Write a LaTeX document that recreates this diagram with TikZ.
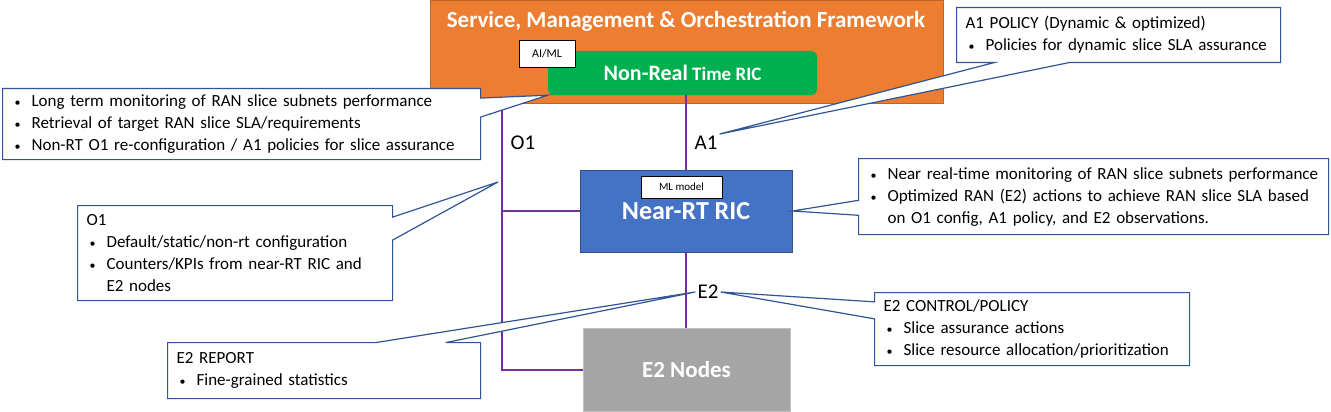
\documentclass[tikz,border=0pt]{standalone}
\usepackage{fontspec}
\setmainfont{Carlito}
\usepackage{xcolor}
\usetikzlibrary{shapes,shapes.callouts,positioning,calc}

\definecolor{smoorange}{HTML}{ED7D31}
\definecolor{nrtgreen}{HTML}{00B050}
\definecolor{ricblue}{HTML}{4472C4}
\definecolor{e2gray}{HTML}{A5A5A5}
\definecolor{ifpurple}{HTML}{7030A0}
\definecolor{noteblue}{HTML}{2F5597}

\newcommand{\bitem}{\hspace*{3pt}\makebox[17pt][l]{\fontsize{12}{12}\selectfont\textbullet}}
\newcommand{\bcont}{\hspace*{20pt}}

\begin{document}
\begin{tikzpicture}[
    x=1pt, y=1pt,
    smobox/.style={rectangle, draw=smoorange!80!black, fill=smoorange, line width=0.6pt},
    nrtbox/.style={rectangle, rounded corners=6pt, fill=nrtgreen, text=white, font=\bfseries},
    ricbox/.style={rectangle, draw=ricblue!70!black, fill=ricblue, line width=0.8pt, text=white, font=\fontsize{26}{28}\selectfont\bfseries},
    e2box/.style={rectangle, draw=e2gray!70!white, fill=e2gray, line width=0.8pt, text=white, font=\fontsize{23}{26}\selectfont\bfseries},
    tag/.style={rectangle, draw=black, fill=white, line width=0.8pt, inner sep=1pt},
    iface/.style={draw=ifpurple, line width=1.5pt},
    ifname/.style={font=\fontsize{21}{24}\selectfont, inner sep=2pt},
    note/.style={rectangle callout, draw=noteblue, line width=1.2pt, fill=white, anchor=north west,
        align=left, inner xsep=9pt, inner ysep=0pt, font=\fontsize{17}{22}\selectfont}
]
    \useasboundingbox (0,0) rectangle (1331,-412);

    % SMO frame with Non-RT RIC
    \node[smobox, minimum width=513pt, minimum height=103pt] (smo) at (686.5,-51.5) {};
    \node[font=\fontsize{23}{26}\selectfont\bfseries, text=white] (smotitle) at (686,-21) {Service, Management \& Orchestration Framework};
    \node[nrtbox, minimum width=269pt, minimum height=44pt] (nrt) at (682.5,-73)
        {{\fontsize{22}{24}\selectfont Non-Real}{\fontsize{19}{24}\selectfont\ Time RIC}};
    \node[tag, font=\fontsize{12}{14}\selectfont, minimum width=56pt, minimum height=27pt] (aiml) at (547,-53.5) {AI/ML};

    % Near-RT RIC and E2 nodes
    \node[ricbox, minimum width=212pt, minimum height=82pt] (rt) at (686,-211) {Near-RT RIC};
    \node[tag, font=\fontsize{11}{13}\selectfont, minimum width=81pt, minimum height=22pt] (mlmodel) at (681.5,-187) {ML model};
    \node[e2box, minimum width=207pt, minimum height=83pt] (e2n) at (686.5,-370) {E2 Nodes};

    % interfaces
    \coordinate (o1top) at (502,-103);
    \draw[iface] (rt.north |- nrt.south) -- (rt.north);
    \draw[iface] (o1top) |- (e2n.west);
    \draw[iface] (o1top |- rt.west) -- (rt.west);
    \draw[iface] (rt.south) -- (rt.south |- e2n.north);
    \node[ifname] (o1lbl) at (523,-143) {O1};
    \node[ifname] (a1lbl) at (706,-143) {A1};
    \node[ifname] (e2lbl) at (708,-292) {E2};
    \coordinate (o1tip) at (498,-182);

    % callouts
    \node[note, minimum width=478pt, minimum height=71pt, text width=460pt, callout pointer width=19pt,
        callout absolute pointer={(nrt.south west)}] (nrtnote) at (2,-88)
        {\bitem Long term monitoring of RAN slice subnets performance\\
         \bitem Retrieval of target RAN slice SLA/requirements\\
         \bitem Non-RT O1 re-configuration / A1 policies for slice assurance};
    \node[note, minimum width=324pt, minimum height=55pt, text width=306pt, callout pointer width=75pt,
        callout absolute pointer={(a1lbl.north east)}] (a1note) at (956,-7)
        {A1 POLICY (Dynamic \& optimized)\\
         \bitem Policies for dynamic slice SLA assurance};
    \node[note, minimum width=470pt, minimum height=76pt, text width=452pt, callout pointer width=15pt,
        callout absolute pointer={(rt.east)}] (rtnote) at (858,-158)
        {\bitem Near real-time monitoring of RAN slice subnets performance\\
         \bitem Optimized RAN (E2) actions to achieve RAN slice SLA based\\
         \bcont on O1 config, A1 policy, and E2 observations.};
    \node[note, minimum width=315pt, minimum height=95pt, text width=297pt, callout pointer width=23pt,
        callout absolute pointer={(o1tip)}] (o1note) at (77,-205)
        {O1\\
         \bitem Default/static/non-rt configuration\\
         \bitem Counters/KPIs from near-RT RIC and\\
         \bcont E2 nodes};
    \node[note, minimum width=313pt, minimum height=56pt, text width=295pt, callout pointer width=70pt,
        callout absolute pointer={(e2lbl.west)}] (e2rnote) at (167,-342)
        {E2 REPORT\\
         \bitem Fine-grained statistics};
    \node[note, minimum width=315pt, minimum height=73pt, text width=297pt, callout pointer width=17pt,
        callout absolute pointer={(e2lbl.east)}] (e2cnote) at (874,-292)
        {E2 CONTROL/POLICY\\
         \bitem Slice assurance actions\\
         \bitem Slice resource allocation/prioritization};
\end{tikzpicture}
\end{document}
